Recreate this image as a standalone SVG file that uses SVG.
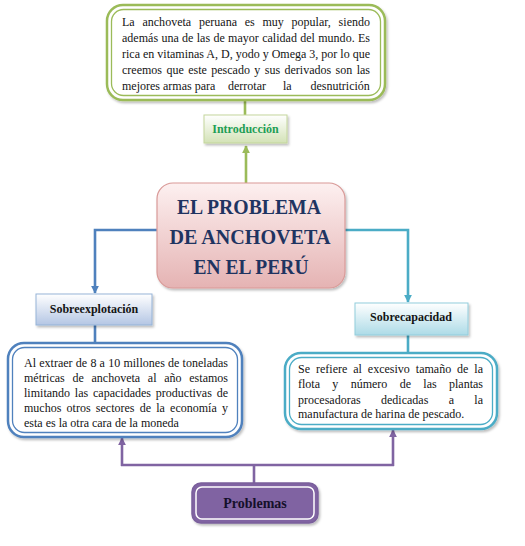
<svg xmlns="http://www.w3.org/2000/svg" width="525" height="546" viewBox="0 0 525 546">
<defs>
<linearGradient id="gPink" x1="0" y1="0" x2="0" y2="1"><stop offset="0" stop-color="#fdf0f0"/><stop offset="1" stop-color="#e5b3b3"/></linearGradient>
<linearGradient id="gGreen" x1="0" y1="0" x2="0" y2="1"><stop offset="0" stop-color="#ffffff"/><stop offset="1" stop-color="#d3e2b6"/></linearGradient>
<linearGradient id="gBlue" x1="0" y1="0" x2="0" y2="1"><stop offset="0" stop-color="#ffffff"/><stop offset="1" stop-color="#b4c6e4"/></linearGradient>
<linearGradient id="gAqua" x1="0" y1="0" x2="0" y2="1"><stop offset="0" stop-color="#ffffff"/><stop offset="1" stop-color="#addbe7"/></linearGradient>
<filter id="sh" x="-10%" y="-10%" width="130%" height="140%"><feDropShadow dx="1.5" dy="2" stdDeviation="1.2" flood-color="#000" flood-opacity="0.25"/></filter>
<marker id="aG" viewBox="0 0 10 10" refX="9" refY="5" markerWidth="3" markerHeight="3" orient="auto"><path d="M0,0 L10,5 L0,10 Z" fill="#9bbb59"/></marker>
<marker id="aB" viewBox="0 0 10 10" refX="9" refY="5" markerWidth="3" markerHeight="3" orient="auto"><path d="M0,0 L10,5 L0,10 Z" fill="#4f81bd"/></marker>
<marker id="aA" viewBox="0 0 10 10" refX="9" refY="5" markerWidth="3" markerHeight="3" orient="auto"><path d="M0,0 L10,5 L0,10 Z" fill="#4bacc6"/></marker>
<marker id="aP" viewBox="0 0 10 10" refX="9" refY="5" markerWidth="3" markerHeight="3" orient="auto"><path d="M0,0 L10,5 L0,10 Z" fill="#8064a2"/></marker>
</defs>
<style>
.body{font-family:"Liberation Serif","Times New Roman",serif;font-size:12px;fill:#141414}
.lbl{font-family:"Liberation Serif","Times New Roman",serif;font-weight:bold;font-size:12px;fill:#141414;text-anchor:middle}
.title{font-family:"Liberation Serif","Times New Roman",serif;font-weight:bold;font-size:21px;fill:#1f3461;text-anchor:middle}
.conn{fill:none;stroke-width:2.6}
</style>
<rect width="525" height="546" fill="#ffffff"/>

<g id="connectors">
<line x1="245" y1="100" x2="245" y2="115" class="conn" stroke="#9bbb59"/>
<line x1="246" y1="183" x2="246" y2="146" class="conn" stroke="#9bbb59" marker-end="url(#aG)"/>
<path d="M157,230 H95 V293" class="conn" stroke="#4f81bd" marker-end="url(#aB)"/>
<line x1="95" y1="325" x2="95" y2="343" class="conn" stroke="#4f81bd"/>
<path d="M345,230 H408 V302" class="conn" stroke="#4bacc6" marker-end="url(#aA)"/>
<line x1="408" y1="335" x2="408" y2="353" class="conn" stroke="#4bacc6"/>
<line x1="254" y1="483" x2="254" y2="465" class="conn" stroke="#8064a2"/>
<line x1="121" y1="465" x2="394" y2="465" class="conn" stroke="#8064a2"/>
<line x1="122" y1="466" x2="122" y2="438" class="conn" stroke="#8064a2" marker-end="url(#aP)"/>
<line x1="393" y1="466" x2="393" y2="430" class="conn" stroke="#8064a2" marker-end="url(#aP)"/>
</g>

<g id="intro-text">
<rect x="107" y="5" width="278" height="95" rx="16" fill="#ffffff" stroke="#9bbb59" stroke-width="2.5" filter="url(#sh)"/>
<rect x="111.5" y="9.5" width="269" height="86" rx="12" fill="none" stroke="#9bbb59" stroke-width="1.3"/>
<text class="body">
<tspan x="122" y="26" word-spacing="4.7" textLength="248" lengthAdjust="spacing">La anchoveta peruana es muy popular, siendo</tspan>
<tspan x="122" y="42" word-spacing="0.3" textLength="248" lengthAdjust="spacing">además una de las de mayor calidad del mundo. Es</tspan>
<tspan x="122" y="58" textLength="248" lengthAdjust="spacing">rica en vitaminas A, D, yodo y Omega 3, por lo que</tspan>
<tspan x="122" y="74" word-spacing="1.4" textLength="248" lengthAdjust="spacing">creemos que este pescado y sus derivados son las</tspan>
<tspan x="122" y="90">mejores armas para</tspan>
<tspan x="228" y="90">derrotar</tspan>
<tspan x="283" y="90">la</tspan>
<tspan x="310.5" y="90">desnutrición</tspan>
</text>
</g>

<g id="introduccion">
<rect x="204" y="115" width="83" height="28" fill="url(#gGreen)" stroke="#c3d69b" stroke-width="1" filter="url(#sh)"/>
<text x="245.5" y="133" class="lbl" style="fill:#1e9e55">Introducción</text>
</g>

<g id="main">
<rect x="157" y="183" width="188" height="105" rx="16" fill="url(#gPink)" stroke="#d99a98" stroke-width="1.2" filter="url(#sh)"/>
<text class="title">
<tspan x="251" y="214" textLength="143" lengthAdjust="spacingAndGlyphs">EL PROBLEMA</tspan>
<tspan x="252" y="244" textLength="160" lengthAdjust="spacingAndGlyphs">DE ANCHOVETA</tspan>
<tspan x="251" y="274" textLength="115" lengthAdjust="spacingAndGlyphs">EN EL PERÚ</tspan>
</text>
</g>

<g id="sobreexplotacion">
<rect x="36" y="294" width="116" height="31" fill="url(#gBlue)" stroke="#95b3d7" stroke-width="1" filter="url(#sh)"/>
<text x="94" y="313" class="lbl">Sobreexplotación</text>
</g>

<g id="sobrecapacidad">
<rect x="355" y="303" width="113" height="32" fill="url(#gAqua)" stroke="#92cddc" stroke-width="1" filter="url(#sh)"/>
<text x="411" y="321" class="lbl">Sobrecapacidad</text>
</g>

<g id="sobreexplotacion-text">
<rect x="8" y="343" width="234" height="94" rx="16" fill="#ffffff" stroke="#4f81bd" stroke-width="2.5" filter="url(#sh)"/>
<rect x="12.5" y="347.5" width="225" height="85" rx="12" fill="none" stroke="#4f81bd" stroke-width="1.3"/>
<text class="body">
<tspan x="24" y="367" word-spacing="0.2" textLength="204" lengthAdjust="spacing">Al extraer de 8 a 10 millones de toneladas</tspan>
<tspan x="24" y="382" word-spacing="4.7" textLength="204" lengthAdjust="spacing">métricas de anchoveta al año estamos</tspan>
<tspan x="24" y="397" word-spacing="1.8" textLength="204" lengthAdjust="spacing">limitando las capacidades productivas de</tspan>
<tspan x="24" y="412" word-spacing="2.2" textLength="204" lengthAdjust="spacing">muchos otros sectores de la economía y</tspan>
<tspan x="24" y="427">esta es la otra cara de la moneda</tspan>
</text>
</g>

<g id="sobrecapacidad-text">
<rect x="285" y="353" width="212" height="76" rx="16" fill="#ffffff" stroke="#4bacc6" stroke-width="2.5" filter="url(#sh)"/>
<rect x="289.5" y="357.5" width="203" height="67" rx="12" fill="none" stroke="#4bacc6" stroke-width="1.3"/>
<text class="body">
<tspan x="298" y="373" word-spacing="2.9" textLength="185" lengthAdjust="spacing">Se refiere al excesivo tamaño de la</tspan>
<tspan x="298" y="388" word-spacing="9.3" textLength="185" lengthAdjust="spacing">flota y número de las plantas</tspan>
<tspan x="298" y="404" word-spacing="17.3" textLength="185" lengthAdjust="spacing">procesadoras dedicadas a la</tspan>
<tspan x="298" y="418">manufactura de harina de pescado.</tspan>
</text>
</g>

<g id="problemas">
<rect x="192" y="483" width="126" height="40" rx="9" fill="#8064a2" stroke="#7a5f9c" stroke-width="1.5" filter="url(#sh)"/>
<rect x="196" y="487" width="118" height="32" rx="6" fill="none" stroke="#ffffff" stroke-width="1.5"/>
<text x="255" y="508" class="lbl" style="font-size:14px;fill:#15102a">Problemas</text>
</g>
</svg>
